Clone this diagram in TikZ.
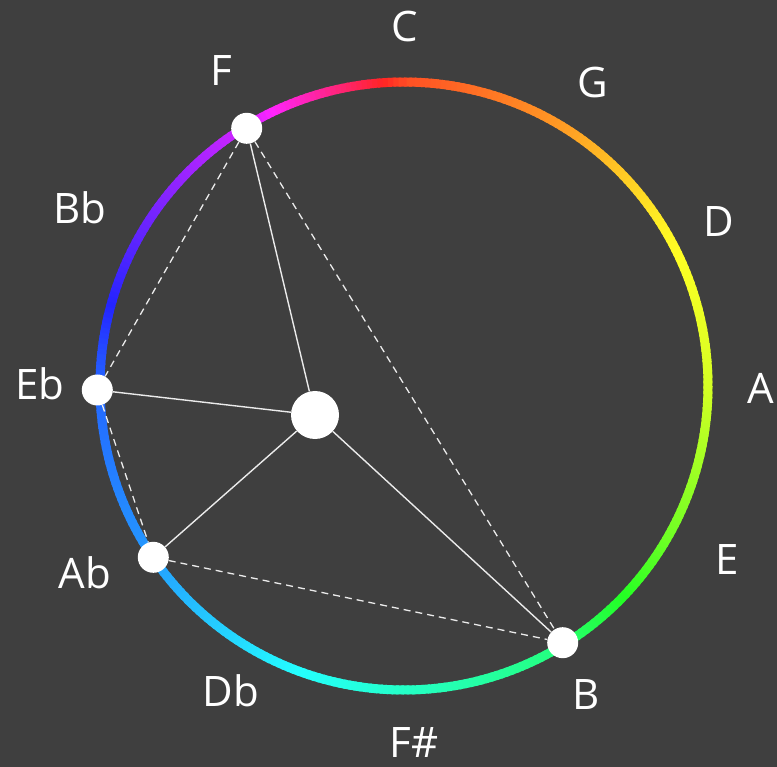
\documentclass[tikz,border=0pt]{standalone}
\usepackage{fontspec}
\setmainfont{Open Sans}
\definecolor{bg}{RGB}{63,63,63}
\definecolor{ln}{RGB}{235,235,235}
\begin{document}
\begin{tikzpicture}[x=1pt,y=1pt,
  lbl/.style={text=white,inner sep=0pt,font=\fontsize{42}{50}\selectfont},
  dot/.style={circle,fill=white,inner sep=0pt,minimum size=31pt},
  bigdot/.style={circle,fill=white,inner sep=0pt,minimum size=48pt},
  solidline/.style={ln,line width=1.4pt},
  dashline/.style={ln,line width=1.3pt,dash pattern=on 7pt off 5pt}]
\fill[bg] (0,0) rectangle (777,-767);
\useasboundingbox (0,0) rectangle (777,-767);
\coordinate (O) at (404,-386);
% colour ring
\foreach \a/\ha/\hb in {0/12/32, 30/32/58, 60/58/72, 90/72/100, 120/100/145, 150/145/165, 180/165/188, 210/188/210, 240/210/222, 270/222/258, 300/258/290, 330/290/372} {
  \foreach \i in {0,...,29} {
    \pgfmathsetmacro{\t}{90-\a-\i}
    \pgfmathsetmacro{\h}{mod(\ha+(\hb-\ha)*\i/30,360)}
    \definecolor{seg}{Hsb}{\h,0.86,1}
    \draw[seg,line width=9pt] ([shift={(\t:304)}]O) arc[start angle=\t, end angle=\t-1.5, radius=304];
  }
}
% dots
\node[dot] (F) at (246.7,-128.3) {};
\node[dot] (Eb) at (97.3,-390) {};
\node[dot] (Ab) at (153.3,-557.3) {};
\node[dot] (B) at (562.7,-642.7) {};
\node[bigdot] (M) at (315,-415) {};
% connectors
\draw[solidline] (M) -- (F);
\draw[solidline] (M) -- (Eb);
\draw[solidline] (M) -- (Ab);
\draw[solidline] (M) -- (B);
\draw[dashline] (F) -- (Eb);
\draw[dashline] (Eb) -- (Ab);
\draw[dashline] (Ab) -- (B);
\draw[dashline] (F) -- (B);
% labels
\node[lbl] (lC) at (404.5,-26.5) {C};
\node[lbl] (lG) at (593,-83) {G};
\node[lbl] (lD) at (719,-222) {D};
\node[lbl] (lA) at (761,-388) {A};
\node[lbl] (lE) at (727,-560) {E};
\node[lbl] (lB) at (586,-695) {B};
\node[lbl] (lFs) at (414,-743) {F\#};
\node[lbl] (lDb) at (231,-691) {Db};
\node[lbl] (lAb) at (85,-573) {Ab};
\node[lbl] (lEb) at (40,-384) {Eb};
\node[lbl] (lBb) at (80,-208) {Bb};
\node[lbl] (lF) at (221,-71) {F};
\end{tikzpicture}
\end{document}
